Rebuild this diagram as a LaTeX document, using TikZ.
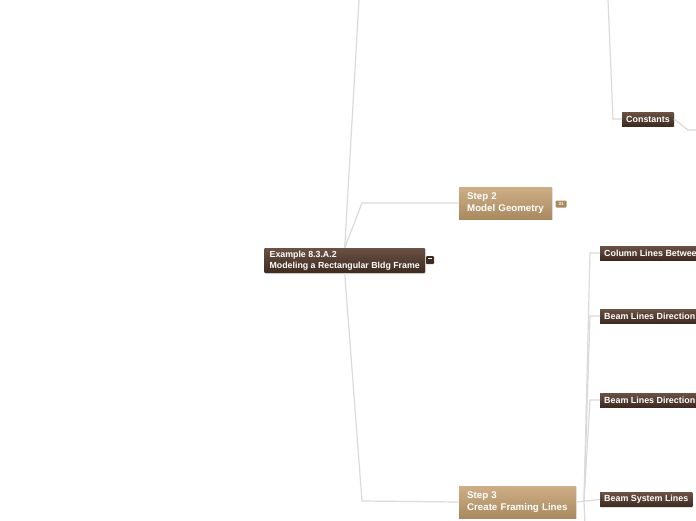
\documentclass[tikz,border=0pt]{standalone}
\usepackage{fontspec}
\setmainfont{Liberation Sans}
\usetikzlibrary{positioning, shadows}

\definecolor{darkbrown}{HTML}{3E2A20}
\definecolor{midbrown}{HTML}{6A5244}
\definecolor{tantop}{HTML}{CDAE86}
\definecolor{tanbot}{HTML}{A98A60}
\definecolor{linkgray}{HTML}{DADADA}

\tikzstyle{rootbox} = [rectangle, rounded corners=1pt, top color=midbrown, bottom color=darkbrown, text=white, font=\bfseries\fontsize{8.8}{10.5}\selectfont, align=left, inner xsep=4pt, inner ysep=0pt, minimum width=161pt, minimum height=25pt, anchor=west, drop shadow={opacity=0.25, shadow xshift=1pt, shadow yshift=-1pt}]
\tikzstyle{stepbox} = [rectangle, top color=tantop, bottom color=tanbot, text=white, font=\bfseries\fontsize{9.7}{12}\selectfont, align=left, inner xsep=8pt, inner ysep=0pt, minimum height=32pt, anchor=west, drop shadow={opacity=0.2, shadow xshift=1pt, shadow yshift=-1pt}]
\tikzstyle{leafbox} = [rectangle, top color=midbrown, bottom color=darkbrown, text=white, font=\bfseries\fontsize{8.9}{9}\selectfont, inner xsep=4pt, inner ysep=0pt, minimum height=14pt, anchor=west, drop shadow={opacity=0.25, shadow xshift=1pt, shadow yshift=-1pt}]
\tikzstyle{link} = [draw=linkgray, line width=1.2pt]

\begin{document}
\begin{tikzpicture}[x=1pt, y=-1pt]
      \useasboundingbox (0,0) rectangle (696,520);
      \clip (0,0) rectangle (696,520);

      % bend points
      \coordinate (topA) at (359,0);
      \coordinate (knee2) at (362,203);
      \coordinate (knee3) at (362,501);
      \coordinate (topB) at (608,0);
      \coordinate (kneeC) at (613,119);
      \coordinate (kneeR) at (688,130);
      \coordinate (offR) at (700,130);
      \coordinate (fork) at (584,501);
      \coordinate (forkTop) at (590,0);
      \coordinate (offB) at (585,525);

      % main topics
      \node[rootbox] (root) at (264,260.5) {Example 8.3.A.2\\Modeling a Rectangular Bldg Frame};
      \node[stepbox, text width=77pt] (step2) at (459,203) {Step 2\\Model Geometry};
      \node[stepbox, text width=101pt] (step3) at (459,502) {Step 3\\Create Framing Lines};

      % subtopics
      \node[leafbox] (constants) at (622,119) {Constants};
      \node[leafbox] (colLines) at (600,253) {Column Lines Between};
      \node[leafbox] (beamDirA) at (600,316) {Beam Lines Direction};
      \node[leafbox] (beamDirB) at (600,400) {Beam Lines Direction};
      \node[leafbox] (beamSys) at (600,499.5) {Beam System Lines};

      % markers
      \node[rectangle, rounded corners=1pt, fill=darkbrown, minimum size=8pt, inner sep=0pt] (collapse) at (430,260) {};
      \draw[white, line width=0.6pt] ([shift={(-2,-1.5)}]collapse.center) -- ([shift={(2,-1.5)}]collapse.center);
      \node[rectangle, rounded corners=1pt, fill=tanbot, text=white, font=\bfseries\fontsize{4.5}{5}\selectfont, minimum width=11pt, minimum height=7pt, inner sep=0pt] (count) at (561,204) {31};

      % connectors
      \draw[link] (root.north) -- (topA);
      \draw[link] (root.north) -- (knee2) -- (step2.west);
      \draw[link] (root.south) -- (knee3) -- (step3.west);
      \draw[link] (topB) -- (kneeC) -- (constants.west);
      \draw[link] (constants.east) -- (kneeR) -- (offR);
      \draw[link] (step3.east) -- (beamSys.west);
      \foreach \leaf in {colLines, beamDirA, beamDirB} {
        \draw[link] (fork) -- (forkTop |- \leaf.west) -- (\leaf.west);
      }
      \draw[link] (fork) -- (offB);
    \end{tikzpicture}
\end{document}
